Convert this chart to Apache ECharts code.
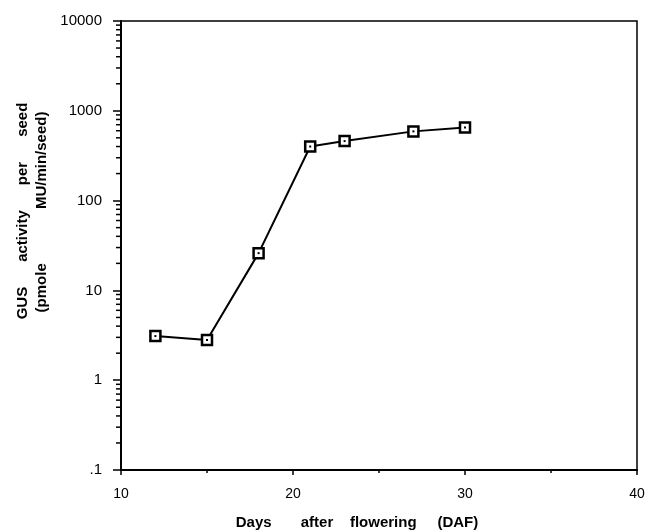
<!DOCTYPE html>
<html>
<head>
<meta charset="utf-8">
<script src="https://cdn.jsdelivr.net/npm/echarts@6/dist/echarts.min.js"></script>
<style>
  html, body { margin: 0; padding: 0; background: #fff; }
  #chart { width: 648px; height: 531px; }
</style>
</head>
<body>
<div id="chart"></div>
<script>
// days after flowering and GUS activity (pmole MU/min/seed)
var days = [12, 15, 18, 21, 23, 27, 30];
var gus = [3.1, 2.8, 26, 400, 460, 590, 650];
var xTicks = [10, 20, 30, 40];
var yTicks = [0.1, 1, 10, 100, 1000, 10000];

var font = "Liberation Sans, Arial, sans-serif";
var chart = echarts.init(document.getElementById("chart"));

var option = {
  animation: false,
  backgroundColor: "#fff",
  grid: {
    left: 121, right: 11, top: 21, bottom: 61,
    show: true, borderColor: "#000", borderWidth: 1.5
  },
  xAxis: {
    type: "value",
    min: xTicks[0], max: xTicks[xTicks.length - 1], interval: 10,
    axisLine: { show: true, lineStyle: { color: "#000", width: 2 } },
    axisTick: { show: true, length: 5, lineStyle: { color: "#000", width: 1.5 } },
    minorTick: { show: true, splitNumber: 2, length: 3, lineStyle: { color: "#000", width: 1.5 } },
    splitLine: { show: false },
    axisLabel: { color: "#000", fontSize: 14, fontFamily: font, margin: 17 }
  },
  yAxis: {
    type: "log", logBase: 10,
    min: yTicks[0], max: yTicks[yTicks.length - 1],
    axisLine: { show: true, lineStyle: { color: "#000", width: 2 } },
    axisTick: { show: true, length: 8, lineStyle: { color: "#000", width: 1.5 } },
    splitLine: { show: false },
    axisLabel: {
      color: "#000", fontSize: 15, fontFamily: font, margin: 19,
      formatter: function (v) { return v < 1 ? ".1" : String(Math.round(v)); }
    }
  },
  series: [{
    type: "line",
    data: days.map(function (d, i) { return [d, gus[i]]; }),
    lineStyle: { color: "#000", width: 2 },
    symbol: "rect", symbolSize: 10,
    itemStyle: { color: "#fff", borderColor: "#000", borderWidth: 2.5 },
    z: 3
  }],
  graphic: [
    { type: "text", x: 23, y: 211, rotation: Math.PI / 2,
      style: { text: "GUS      activity      per      seed", font: "bold 15px " + font, fill: "#000", align: "center", verticalAlign: "middle" } },
    { type: "text", x: 42, y: 212, rotation: Math.PI / 2,
      style: { text: "(pmole             MU/min/seed)", font: "bold 15px " + font, fill: "#000", align: "center", verticalAlign: "middle" } },
    { type: "text", x: 357, y: 523,
      style: { text: "Days       after    flowering     (DAF)", font: "bold 15px " + font, fill: "#000", align: "center", verticalAlign: "middle" } }
  ]
};
chart.setOption(option);

// log minor ticks (2..9 within each decade), outside the left axis
var x0 = chart.convertToPixel({ xAxisIndex: 0 }, xTicks[0]);
var extra = [];
for (var n = -1; n < 4; n++) {
  for (var k = 2; k <= 9; k++) {
    var py = chart.convertToPixel({ yAxisIndex: 0 }, k * Math.pow(10, n));
    extra.push({ type: "line", shape: { x1: x0 - 5, y1: py, x2: x0, y2: py },
      style: { stroke: "#000", lineWidth: 1.5 }, silent: true });
  }
}
// marker centre dots
days.forEach(function (d, i) {
  var p = chart.convertToPixel({ seriesIndex: 0 }, [d, gus[i]]);
  extra.push({ type: "rect", shape: { x: p[0] - 1, y: p[1] - 1, width: 2, height: 2 },
    style: { fill: "#000" }, z: 10, silent: true });
});
chart.setOption({ graphic: option.graphic.concat(extra) });
</script>
</body>
</html>
